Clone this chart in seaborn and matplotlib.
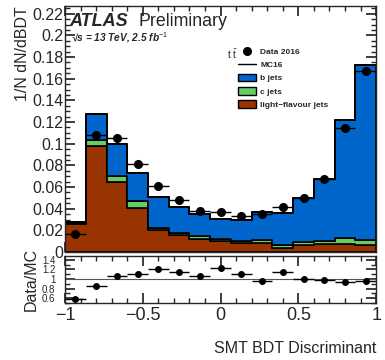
import numpy as np
import pandas as pd
import matplotlib
matplotlib.use("Agg")
import matplotlib.pyplot as plt
import seaborn as sns
from matplotlib.patches import Patch
from matplotlib.lines import Line2D
from matplotlib.ticker import MultipleLocator

# ---------------- data ----------------
bin_edges = list(np.linspace(-1, 1, 16))
light_jets = [0.0260, 0.0975, 0.0643, 0.0405, 0.0200, 0.0153, 0.0116, 0.0098,
              0.0080, 0.0086, 0.0040, 0.0067, 0.0077, 0.0072, 0.0061]
c_jets = [0.0005, 0.0055, 0.0055, 0.0062, 0.0024, 0.0025, 0.0031, 0.0025,
          0.0018, 0.0021, 0.0028, 0.0025, 0.0023, 0.0053, 0.0046]
b_jets = [0.0015, 0.0240, 0.0302, 0.0263, 0.0281, 0.0242, 0.0206, 0.0180,
          0.0200, 0.0258, 0.0295, 0.0408, 0.0577, 0.1095, 0.1623]
data_2016 = [0.0162, 0.1080, 0.1055, 0.0810, 0.0606, 0.0483, 0.0378, 0.0372,
             0.0329, 0.0350, 0.0415, 0.0498, 0.0670, 0.1148, 0.1668]
flavour_labels = ["b jets", "c jets", "light\u2212flavour jets"]

edges = np.array(bin_edges)
centers = 0.5 * (edges[:-1] + edges[1:])
half_w = 0.5 * (edges[1] - edges[0])
total_mc = np.array(light_jets) + np.array(c_jets) + np.array(b_jets)
ratio = np.array(data_2016) / total_mc

df = pd.DataFrame({
    "x": np.tile(centers, 3),
    "w": np.concatenate([b_jets, c_jets, light_jets]),
    "flavour": np.repeat(flavour_labels, len(centers)),
})
palette = {"b jets": "#0066cc", "c jets": "#66cc66", "light\u2212flavour jets": "#993300"}

# ---------------- style ----------------
sns.set_theme(style="ticks")
plt.rcParams["font.family"] = ["Liberation Sans", "DejaVu Sans"]
plt.rcParams["mathtext.fontset"] = "custom"
plt.rcParams["mathtext.rm"] = "Liberation Sans"
plt.rcParams["mathtext.it"] = "Liberation Sans:italic"
plt.rcParams["mathtext.bf"] = "Liberation Sans:bold"

fig = plt.figure(figsize=(3.85, 3.6), dpi=100)
ax = fig.add_axes([0.169, 0.300, 0.808, 0.683])
rax = fig.add_axes([0.169, 0.158, 0.808, 0.131])

# stacked MC
sns.histplot(data=df, x="x", weights="w", hue="flavour", bins=bin_edges,
             multiple="stack", element="step", fill=True, palette=palette,
             hue_order=flavour_labels, alpha=1, edgecolor="black", linewidth=1.2,
             legend=False, ax=ax)
# total MC outline
sns.histplot(x=centers, weights=total_mc, bins=bin_edges, element="step",
             fill=False, color="black", linewidth=1.4, ax=ax)
# data
ax.errorbar(centers, data_2016, xerr=half_w, fmt="o", color="black",
            markersize=5.5, elinewidth=1.0, capsize=0, zorder=5)

ax.set_xlim(-1, 1)
ax.set_ylim(0, 0.227)
ax.set_xlabel("")
ax.set_ylabel("1/N dN/dBDT", fontsize=11.5, loc="top", labelpad=2)
ax.xaxis.set_major_locator(MultipleLocator(0.5))
ax.xaxis.set_minor_locator(MultipleLocator(0.1))
ax.set_xticklabels([])
ax.yaxis.set_minor_locator(MultipleLocator(0.005))
ax.set_yticks(np.arange(0, 0.221, 0.02))
ax.set_yticklabels(["0", "0.02", "0.04", "0.06", "0.08", "0.1", "0.12", "0.14",
                    "0.16", "0.18", "0.2", "0.22"])
ax.tick_params(which="both", direction="in", top=True, right=True, labelsize=11.5, pad=1)
ax.tick_params(which="major", length=7)
ax.tick_params(which="minor", length=3.5)
for s in ax.spines.values():
    s.set_linewidth(1.0)

# texts
ax.text(0.015, 0.938, "ATLAS", transform=ax.transAxes, fontsize=13,
        fontweight="bold", fontstyle="italic", va="center")
ax.text(0.235, 0.938, "Preliminary", transform=ax.transAxes, fontsize=12.8, va="center")
ax.text(0.018, 0.873, "\u221as = 13 TeV, 2.5 fb$^{-1}$", transform=ax.transAxes,
        fontsize=7.3, fontweight="bold", fontstyle="italic", va="center")
ax.text(0.52, 0.807, r"$\mathrm{t\ \bar{t}}$", transform=ax.transAxes, fontsize=7,
        va="center")

handles = [Line2D([], [], marker="o", color="black", linestyle="none", markersize=5.5),
           Line2D([], [], color="black", linewidth=1.0),
           Patch(facecolor=palette["b jets"], edgecolor="black"),
           Patch(facecolor=palette["c jets"], edgecolor="black"),
           Patch(facecolor=palette["light\u2212flavour jets"], edgecolor="black")]
labels = ["Data 2016", "MC16"] + flavour_labels
leg = ax.legend(handles, labels, loc="upper left", bbox_to_anchor=(0.545, 0.845),
                frameon=False, prop={"size": 6, "weight": "bold"},
                handlelength=2.2, handleheight=1.0, labelspacing=0.55,
                handletextpad=0.5, borderaxespad=0)

# ratio panel
rax.axhline(1.0, color="#555555", linewidth=0.8)
rax.errorbar(centers, ratio, xerr=half_w, fmt="o", color="black",
             markersize=4, elinewidth=1.0, capsize=0)
rax.set_xlim(-1, 1)
rax.set_ylim(0.5, 1.48)
rax.set_yticks([0.6, 0.8, 1.0, 1.2, 1.4])
rax.set_yticklabels(["0.6", "0.8", "1", "1.2", "1.4"])
rax.xaxis.set_minor_locator(MultipleLocator(0.1))
rax.yaxis.set_minor_locator(MultipleLocator(0.1))
rax.set_xticks([-1, -0.5, 0, 0.5, 1])
rax.set_xticklabels(["\u22121", "\u22120.5", "0", "0.5", "1"])
rax.tick_params(axis="y", which="both", labelsize=7, pad=7)
rax.tick_params(axis="x", which="both", labelsize=13, pad=3)
rax.tick_params(which="both", direction="in", top=True, right=True)
rax.tick_params(which="major", length=7)
rax.tick_params(which="minor", length=3.5)
rax.set_ylabel("Data/MC", fontsize=11.5, labelpad=2)
rax.set_xlabel("SMT BDT Discriminant", fontsize=11.5, loc="right", labelpad=12)
for s in rax.spines.values():
    s.set_linewidth(1.0)

fig.savefig("out.png", dpi=100)
